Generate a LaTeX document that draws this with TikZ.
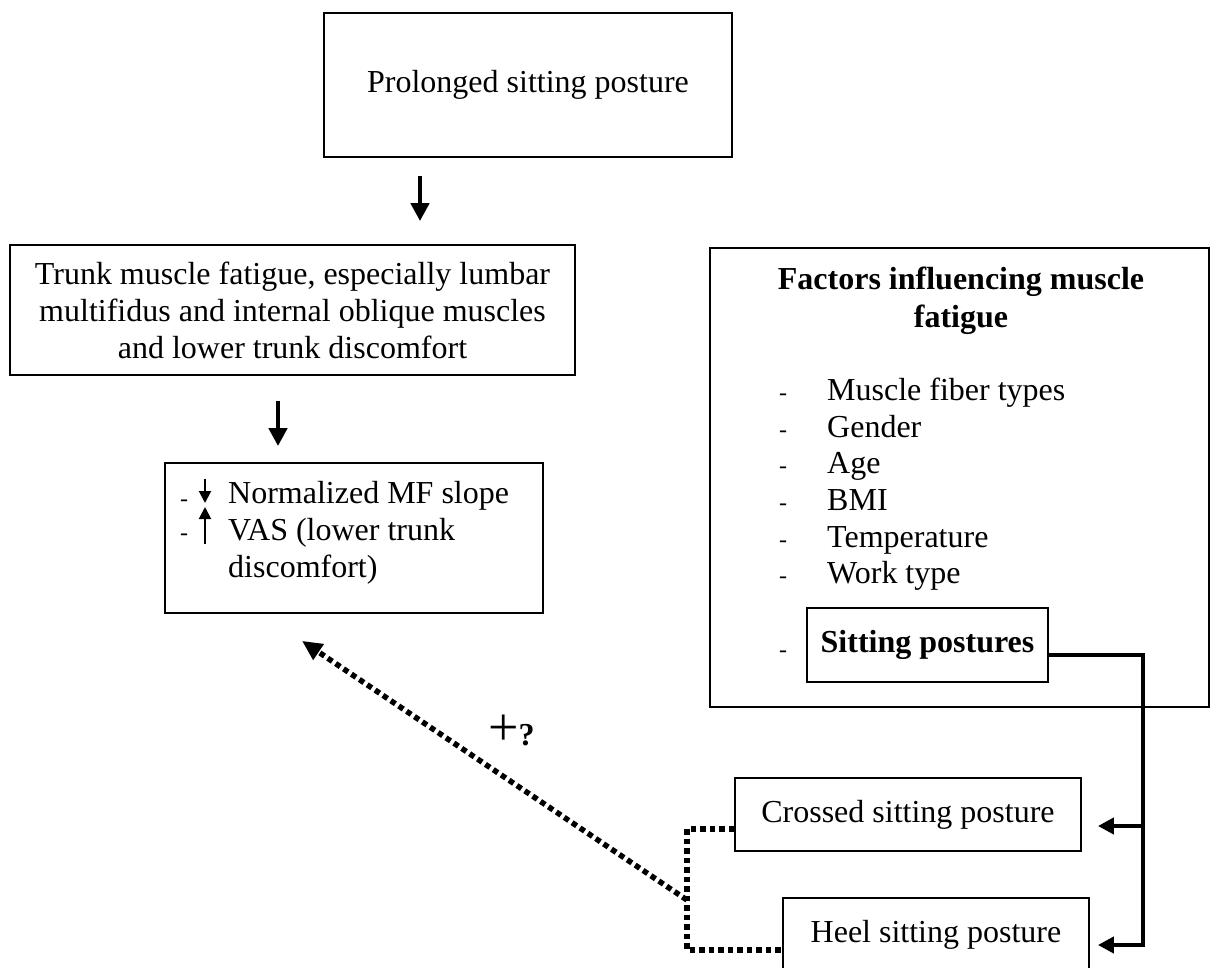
\documentclass[tikz,border=0pt]{standalone}
\usepackage{fontspec}
\setmainfont{Liberation Serif}
\usetikzlibrary{arrows.meta,calc}
\begin{document}
\begin{tikzpicture}[x=1pt,y=-1pt,
  box/.style={draw, line width=1.8pt, rectangle, inner sep=0pt, align=center, font=\fontsize{32}{37}\selectfont},
  txt/.style={inner sep=0pt, anchor=base west, font=\fontsize{32}{37}\selectfont},
  ttl/.style={inner sep=0pt, anchor=base, font=\bfseries\fontsize{32}{37}\selectfont},
  dsh/.style={inner sep=0pt, anchor=base, font=\fontsize{24}{24}\selectfont},
  bigarrow/.style={line width=4.5pt, -{Triangle[length=18pt,width=18pt]}},
  smallarrow/.style={line width=2pt, -{Triangle[length=12pt,width=12pt]}},
  conline/.style={line width=4.5pt, line join=miter},
  conarrow/.style={line width=4.5pt, -{Triangle[length=16pt,width=16pt]}},
  dotline/.style={line width=5.5pt, dash pattern=on 5.5pt off 4pt},
]
\useasboundingbox (0,0) rectangle (1210,968);
\clip (0,0) rectangle (1210,968);

% left column
\node[box, minimum width=408pt, minimum height=144pt] (top) at (528,85) {Prolonged sitting posture};
\node[box, minimum width=565pt, minimum height=130pt] (trunk) at (292.5,310)
  {Trunk muscle fatigue, especially lumbar\\multifidus and internal oblique muscles\\and lower trunk discomfort};
\node[box, minimum width=378pt, minimum height=150pt] (mf) at (354,538) {};
\node[txt] (mf1) at (228,503) {Normalized MF slope};
\node[txt] (mf2) at (228,540) {VAS (lower trunk};
\node[txt] (mf3) at (228,577) {discomfort)};
\node[dsh] (mfd1) at (184,506) {-};
\node[dsh] (mfd2) at (184,540) {-};
\coordinate (dn1) at (205,479);
\coordinate (dn2) at (205,503);
\coordinate (up1) at (205,544);
\coordinate (up2) at (205,507);
\draw[smallarrow] (dn1) -- (dn2);
\draw[smallarrow] (up1) -- (up2);

\coordinate (a1) at (420,0);
\coordinate (a2) at (278,0);
\draw[bigarrow, shorten <=18pt, shorten >=23pt] (top.south -| a1) -- (trunk.north -| a1);
\draw[bigarrow, shorten <=25pt, shorten >=16pt] (trunk.south -| a2) -- (mf.north -| a2);

% factors box
\node[box, minimum width=499pt, minimum height=459pt] (fac) at (959.5,477.5) {};
\node[ttl] (ft1) at (961,290) {Factors influencing muscle};
\node[ttl] (ft2) at (961,327) {fatigue};
\foreach \y/\t [count=\i] in {400/Muscle fiber types, 437/Gender, 473/Age, 510/BMI, 547/Temperature, 583/Work type}{
  \node[dsh] (fd\i) at (783,\y) {-};
  \node[txt] (fi\i) at (827,\y) {\t};
}
\node[dsh] (fd7) at (783,657) {-};
\node[box, font=\bfseries\fontsize{32}{37}\selectfont, minimum width=241pt, minimum height=74pt] (sp) at (927.5,645) {Sitting postures};

% postures
\node[box, minimum width=346pt, minimum height=73pt] (cross) at (908,814.5) {Crossed sitting posture};
\node[box, minimum width=306pt, minimum height=73pt] (heel) at (936,934.5) {Heel sitting posture};

\coordinate (spo) at ($(sp.east)+(0,10)$);
\coordinate (bus) at (1143,0);
\coordinate (ct) at ($(cross.east)+(16,11.5)$);
\coordinate (ht) at ($(heel.east)+(8,10.5)$);
\draw[conline] (spo) -- (spo -| bus) -- ([yshift=-2.25pt]ht -| bus);
\draw[conarrow] ([xshift=2.25pt]ct -| bus) -- (ct);
\draw[conarrow] ([xshift=2.25pt]ht -| bus) -- (ht);

% dotted
\coordinate (cw) at ($(cross.west)+(0,14.5)$);
\coordinate (hw) at ($(heel.west)+(0,15.5)$);
\coordinate (dj) at (687,900);
\coordinate (dtip) at ($(mf.south)+(-52,27)$);
\draw[dotline] (cw) -- (cw -| dj) -- (hw -| dj) -- (hw);
\draw[dotline, -{Triangle[length=20pt,width=18pt]}] (dj) -- (dtip);

\node[inner sep=0pt, anchor=base west] (pq) at (488,745) {{\fontsize{54}{54}\selectfont +}{\bfseries\fontsize{32}{32}\selectfont ?}};
\end{tikzpicture}
\end{document}
